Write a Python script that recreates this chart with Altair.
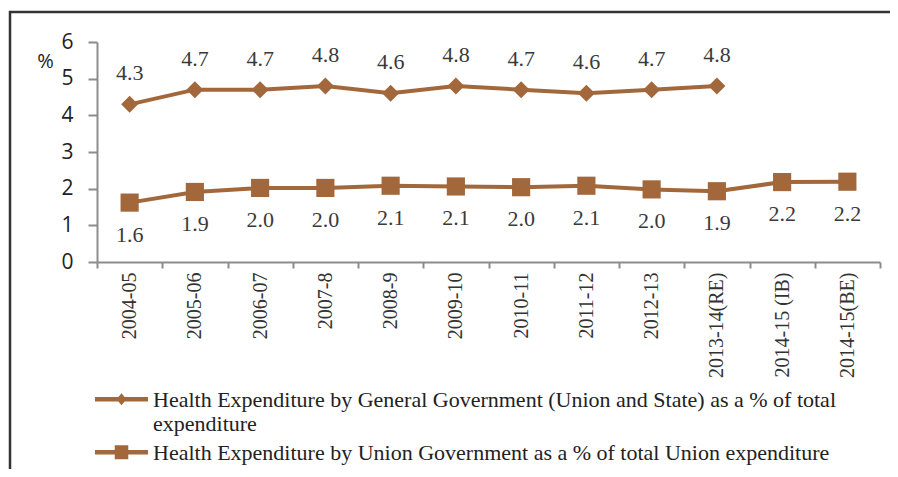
import altair as alt
import pandas as pd

periods = ["2004-05", "2005-06", "2006-07", "2007-8", "2008-9", "2009-10",
           "2010-11", "2011-12", "2012-13", "2013-14(RE)", "2014-15 (IB)", "2014-15(BE)"]
general_values = [4.3, 4.7, 4.7, 4.8, 4.6, 4.8, 4.7, 4.6, 4.7, 4.8, None, None]
union_values = [1.62, 1.91, 2.02, 2.02, 2.08, 2.06, 2.04, 2.08, 1.98, 1.93, 2.18, 2.19]
series_names = [
    "Health Expenditure by General Government (Union and State) as a % of total expenditure",
    "Health Expenditure by Union Government as a % of total Union expenditure",
]
y_ticks = [0, 1, 2, 3, 4, 5, 6]

rows = []
for p, g, u in zip(periods, general_values, union_values):
    if g is not None:
        rows.append({"period": p, "value": g, "series": series_names[0]})
    rows.append({"period": p, "value": u, "series": series_names[1]})
df = pd.DataFrame(rows)

BROWN = "#A2683C"
SERIF = "Liberation Serif"
SANS = "Open Sans"
AXIS_GRAY = "#8c8c8c"


def legend_path(kind, sh):
    w = 1.082
    a, b = sh - 0.092, sh + 0.092
    bar = f"M{-w},{a:.3f}H{w}V{b:.3f}H{-w}Z"
    if kind == "diamond":
        mk = f"M0,{sh-0.245:.3f}L0.204,{sh:.3f}L0,{sh+0.245:.3f}L-0.204,{sh:.3f}Z"
    else:
        mk = f"M-0.276,{sh-0.286:.3f}H0.276V{sh+0.286:.3f}H-0.276Z"
    return bar + mk


SH = -0.30

x_enc = alt.X(
    "period:N", sort=periods,
    scale=alt.Scale(type="band", paddingInner=0, paddingOuter=0),
    axis=alt.Axis(title=None, labelAngle=-90, labelFont=SERIF, labelFontSize=20,
                  labelColor="#333333", tickBand="extent", tickSize=6, labelPadding=4,
                  domainColor=AXIS_GRAY, tickColor=AXIS_GRAY, domainWidth=2, tickWidth=2,
                  grid=False),
)
y_enc = alt.Y(
    "value:Q", scale=alt.Scale(domain=[0, 6]),
    axis=alt.Axis(title="%", titleAngle=0, titleX=-52, titleY=19, titleAlign="center",
                  titleBaseline="middle", titleFont=SANS, titleFontSize=20,
                  titleFontWeight="normal", titleColor="#222222",
                  values=y_ticks, format="d", labelFont=SANS, labelFontSize=21,
                  labelColor="#222222", labelPadding=15, tickSize=9,
                  domainColor=AXIS_GRAY, tickColor=AXIS_GRAY, domainWidth=2, tickWidth=2,
                  grid=False),
)

base = alt.Chart(df).encode(x=x_enc, y=y_enc)

line = base.mark_line(color=BROWN, strokeWidth=4).encode(detail="series:N")
pts_g = base.transform_filter(alt.datum.series == series_names[0]).mark_point(
    shape="diamond", size=290, filled=True, opacity=1, color=BROWN)
pts_u = base.transform_filter(alt.datum.series == series_names[1]).mark_point(
    shape="square", size=330, filled=True, opacity=1, color=BROWN)
lab_g = base.transform_filter(alt.datum.series == series_names[0]).mark_text(
    dy=-31, font=SERIF, fontSize=22, color="#3a3a3a").encode(
    text=alt.Text("value:Q", format=".1f"))
lab_u = base.transform_filter(alt.datum.series == series_names[1]).mark_text(
    dy=32, font=SERIF, fontSize=22, color="#3a3a3a").encode(
    text=alt.Text("value:Q", format=".1f"))

legend_layer = base.mark_point(filled=True, opacity=0, color=BROWN).encode(
    shape=alt.Shape(
        "series:N",
        scale=alt.Scale(domain=series_names,
                        range=[legend_path("diamond", SH), legend_path("square", SH)]),
        legend=alt.Legend(
            title=None, orient="none", legendX=0, legendY=340, padding=0,
            symbolSize=2401, symbolFillColor=BROWN, symbolStrokeColor=BROWN,
            symbolStrokeWidth=0, symbolOpacity=1, symbolOffset=0,
            labelFont=SERIF, labelFontSize=22, labelColor="#222222", labelLimit=0,
            labelOffset=7, labelBaseline="alphabetic", rowPadding=0,
            labelExpr="length(datum.label) > 80 ? [slice(datum.label, 0, lastindexof(datum.label, ' ')), slice(datum.label, lastindexof(datum.label, ' ') + 1)] : datum.label",
        ),
    )
)

one = pd.DataFrame({"k": [0]})
border_left = alt.Chart(one).mark_rule(color="#333333", strokeWidth=2.5).encode(
    x=alt.value(-87), y=alt.value(-31), y2=alt.value(430))
border_top = alt.Chart(one).mark_rule(color="#333333", strokeWidth=2.5).encode(
    x=alt.value(-88), x2=alt.value(800), y=alt.value(-30))

chart = alt.layer(
    border_left, border_top, line, pts_g, pts_u, lab_g, lab_u, legend_layer
).properties(
    width=783, height=220,
    padding={"left": 89, "top": 34, "right": 10, "bottom": 207},
    autosize=alt.AutoSizeParams(type="none"),
).configure_view(stroke=None)

chart.save("out.html", embed_options={"renderer": "svg", "actions": False})
